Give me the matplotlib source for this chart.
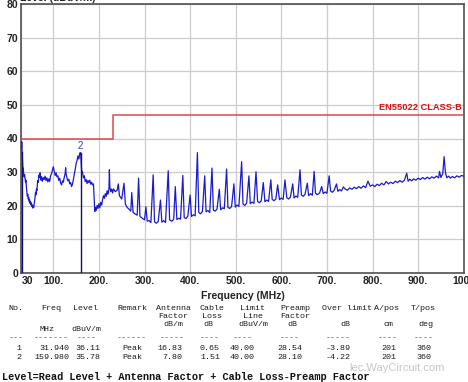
import matplotlib
matplotlib.use("Agg")
import matplotlib.pyplot as plt
from matplotlib.ticker import FixedLocator

# ---------------- data ----------------
x_ticks = [30, 100, 200, 300, 400, 500, 600, 700, 800, 900, 1000]
x_tick_labels = ["30", "100.", "200.", "300.", "400.", "500.", "600.", "700.", "800.", "900.", "1000"]
y_ticks = [0, 10, 20, 30, 40, 50, 60, 70, 80]

limit_freq = [30, 230, 230, 1000]
limit_level = [40, 40, 47, 47]
limit_name = "EN55022 CLASS-B"

marker_freq = [31.94, 159.98]
marker_level = [36.11, 35.78]
marker_label = ["1", "2"]

trace_freq = [
    30, 30.8, 31.5, 32.5, 33.3, 34, 35, 36, 37, 38,
    39, 40, 41, 42, 43, 44, 45, 46, 47, 48,
    49, 50, 51, 52, 53, 54, 55, 56, 57, 58,
    59, 60, 61, 62, 63, 64, 65, 66, 67, 68,
    69, 70, 71, 72, 73, 74, 75, 76, 78, 80,
    82, 84, 86, 88, 90, 92, 94, 96, 98, 100,
    102, 104, 106, 108, 110, 112, 114, 116, 118, 120,
    122, 124, 126, 127, 128, 130, 132, 134, 136, 138,
    140, 142, 144, 146, 148, 150, 152, 154, 156, 158,
    159.98, 161, 162, 164, 166, 168, 170, 172, 174, 176,
    178, 180, 182, 184, 186, 188, 189, 190, 191, 192,
    194, 196, 198, 200, 202, 204, 206, 208, 210, 212,
    214, 216, 218, 220, 222, 223, 224, 226, 228, 230,
    232, 236, 240, 242.5, 245, 250, 255, 258, 262, 266,
    270, 272, 275, 280, 284, 287, 290, 295, 300, 303,
    306, 310, 314, 319, 322, 326, 330, 335, 338, 342,
    346, 352, 355, 360, 364, 367.5, 371, 375, 379, 384,
    387, 391, 395, 400, 403, 407, 411, 416, 419, 423,
    427, 432, 435, 439, 443, 448, 451, 455, 459, 464,
    467, 471, 475, 480, 483, 487, 491, 496, 499, 503,
    507, 513, 516, 520, 524, 529, 532, 536, 540, 544.5,
    548, 552, 556, 560.5, 564, 568, 572, 577, 580, 584,
    588, 592, 596, 600, 604, 608, 612, 616, 620, 625,
    628, 632, 636, 641, 644, 648, 652, 657, 660, 664,
    668, 672, 675, 679, 684, 688.5, 692, 696, 700, 705,
    708, 712, 716, 721, 724, 728, 732, 736, 740, 745,
    750, 755, 760, 765, 770, 775, 780, 785, 790, 795,
    800, 805, 810, 815, 820, 825, 830, 835, 840, 845,
    850, 855, 860, 865, 870, 875, 878, 882, 886, 890,
    895, 900, 905, 910, 915, 920, 925, 930, 935, 940,
    945, 947, 950, 954, 957, 960, 963, 967, 971, 975,
    980, 985, 990, 995, 1000,
]
trace_level = [
    37.0, 39.0, 36.5, 33.0, 30.5, 31.2, 29.5, 28.6, 29.3, 28.0,
    27.0, 27.6, 25.5, 24.0, 22.8, 23.4, 22.0, 22.5, 21.3, 21.8,
    20.7, 21.2, 20.3, 20.8, 19.8, 20.2, 19.3, 19.9, 19.5, 20.4,
    21.5, 22.6, 24.0, 23.3, 25.0, 24.5, 26.4, 27.5, 27.0, 28.6,
    29.2, 28.4, 29.8, 28.5, 27.6, 28.7, 28.0, 27.3, 28.4, 27.8,
    28.8, 27.5, 28.3, 27.1, 28.0, 27.2, 28.9, 29.5, 30.6, 31.6,
    30.2, 29.0, 29.8, 28.6, 28.9, 27.5, 28.2, 26.8, 26.2, 27.4,
    27.0, 28.5, 29.6, 31.3, 29.5, 28.2, 27.4, 27.9, 26.5, 26.9,
    25.7, 26.4, 27.8, 29.4, 30.8, 32.5, 33.4, 34.8, 33.9, 35.7,
    35.78, 33.0, 30.5, 30.0, 28.3, 28.9, 27.2, 27.8, 26.6, 27.5,
    26.9, 27.6, 26.4, 27.0, 26.2, 26.5, 24.0, 21.0, 18.3, 19.5,
    18.6, 20.1, 19.2, 20.6, 19.4, 21.0, 20.2, 21.8, 23.0, 22.2,
    23.6, 22.8, 24.5, 23.4, 25.0, 30.7, 25.5, 24.2, 25.0, 23.8,
    25.0, 24.2, 24.6, 26.5, 23.0, 22.0, 26.7, 20.5, 19.5, 19.0,
    18.4, 23.9, 18.0, 17.5, 17.2, 28.2, 16.8, 16.3, 15.8, 19.7,
    15.4, 15.6, 15.0, 29.2, 15.2, 14.8, 15.3, 21.7, 15.1, 15.6,
    15.0, 30.4, 15.8, 15.4, 16.0, 25.7, 15.9, 16.3, 16.0, 29.0,
    16.5, 16.2, 16.9, 23.2, 16.8, 17.3, 17.0, 35.8, 18.0, 17.6,
    18.3, 28.9, 18.2, 18.6, 18.0, 31.2, 18.7, 18.4, 19.0, 24.9,
    18.8, 19.4, 19.1, 30.9, 19.5, 19.2, 19.8, 26.5, 19.6, 20.2,
    19.8, 33.1, 20.5, 20.1, 20.8, 28.9, 20.6, 21.1, 20.7, 30.1,
    21.3, 20.9, 21.5, 26.9, 21.2, 21.7, 21.3, 27.7, 21.9, 21.5,
    22.0, 26.2, 21.8, 22.3, 21.9, 27.7, 22.4, 22.0, 22.6, 26.5,
    22.3, 22.9, 22.5, 30.7, 23.2, 22.8, 23.4, 26.7, 23.0, 23.6,
    23.1, 30.2, 23.7, 23.3, 23.8, 25.7, 23.6, 24.1, 23.7, 28.9,
    24.4, 24.0, 24.6, 26.5, 24.3, 24.8, 24.4, 25.6, 25.0, 24.6,
    25.3, 24.9, 25.5, 25.1, 25.7, 25.2, 25.9, 25.4, 27.3, 25.8,
    26.2, 25.7, 26.4, 26.0, 26.7, 26.2, 27.2, 26.5, 27.0, 26.6,
    27.3, 26.9, 27.5, 27.0, 27.6, 29.7, 27.3, 27.9, 27.4, 28.0,
    27.6, 28.2, 27.8, 28.4, 27.9, 28.5, 28.0, 28.6, 28.2, 28.8,
    28.3, 30.2, 28.4, 29.5, 34.6, 29.8, 28.3, 28.8, 28.2, 28.7,
    28.3, 28.9, 28.5, 29.0, 28.8,
]

# table data
col_headers = [
    ("No.", "", ""), ("Freq", "", "MHz"), ("Level", "", "dBuV/m"), ("Remark", "", ""),
    ("Antenna", "Factor", "dB/m"), ("Cable", "Loss", "dB"), ("Limit", "Line", "dBuV/m"),
    ("Preamp", "Factor", "dB"), ("Over limit", "", "dB"), ("A/pos", "", "cm"), ("T/pos", "", "deg"),
]
row1 = ["1", "31.940", "36.11", "Peak", "16.83", "0.65", "40.00", "28.54", "-3.89", "201", "360"]
row2 = ["2", "159.980", "35.78", "Peak", "7.80", "1.51", "40.00", "28.10", "-4.22", "201", "360"]
dash_counts = [3, 7, 4, 6, 5, 4, 4, 4, 5, 4, 4]
footer = "Level=Read Level + Antenna Factor + Cable Loss-Preamp Factor"

# ---------------- layout helpers (pixel positions) ----------------
W, H = 468, 382
def fx(px):
    return px / W
def fy(py):
    return 1 - py / H

header_x = [16, 51, 86, 132, 173, 212, 253, 295, 347, 387, 423]
unit_x = [16, 47, 86, 132, 173, 208, 253, 292, 345, 389, 426]
value_x = [19, 69, 88, 132, 182, 210, 242, 290, 338, 389, 424]
value_ha = ["center", "right", "center", "center", "right", "center",
            "center", "center", "center", "center", "center"]
dash_x = [16, 51.5, 86.5, 132, 172, 210, 242.5, 290, 338.5, 387.5, 424]

fig = plt.figure(figsize=(W / 100, H / 100), dpi=100)
ax = fig.add_axes([fx(21.4), fy(273), fx(463.7) - fx(21.4), fy(4) - fy(273)])

grid_c = "#cccccc"
ax.set_xlim(30, 1000)
ax.set_ylim(0, 80)
ax.xaxis.set_major_locator(FixedLocator(x_ticks))
ax.set_xticklabels(x_tick_labels)
ax.set_yticks(y_ticks)
ax.grid(True, color=grid_c, linewidth=0.9)
ax.set_axisbelow(True)
ax.tick_params(length=0, labelsize=7.5, pad=2.5)
for lab in ax.get_xticklabels() + ax.get_yticklabels():
    lab.set_fontweight("bold")
    lab.set_fontfamily("Liberation Sans")
    lab.set_color("#222222")
ax.get_xticklabels()[0].set_horizontalalignment("left")
for s in ax.spines.values():
    s.set_color("#505050")
    s.set_linewidth(1.2)

# limit line
ax.plot(limit_freq, limit_level, color="#d84a4a", linewidth=1.1, zorder=3)
ax.text(996, 47.8, limit_name, color="#e01010", fontsize=6.7, fontweight="bold",
        family="Liberation Sans", ha="right", va="bottom")

# trace
ax.plot(trace_freq, trace_level, color="#1a1acd", linewidth=0.9, zorder=4)

# markers (label of marker 1 sits on the left frame and is hidden there)
for f, lv, lab in zip(marker_freq, marker_level, marker_label):
    ax.plot([f, f], [0, lv], color="#101070", linewidth=1.0, zorder=5)
    if f > 40:
        ax.text(f, lv + 0.5, lab, color="#3a3ac8", fontsize=7, family="Liberation Sans",
                ha="center", va="bottom", zorder=6)

ax.set_xlabel("Frequency (MHz)", fontsize=7.5, fontweight="bold",
              family="Liberation Sans", labelpad=3, color="#222222")
fig.text(fx(20), fy(1.2), "Level (dBuV/m)", fontsize=7.5, fontweight="bold",
         family="Liberation Sans", ha="left", va="baseline", color="#222222")

# table
mono = "Liberation Mono"
tc = "#1a1a1a"
fs = 6.0
for i, (h1, h2, h3) in enumerate(col_headers):
    fig.text(fx(header_x[i]), fy(308.5), h1, family=mono, fontsize=fs, ha="center", va="center", color=tc)
    if h2:
        fig.text(fx(header_x[i]), fy(316.5), h2, family=mono, fontsize=fs, ha="center", va="center", color=tc)
    if h3:
        yy = 329.5 if i in (1, 2) else 324.5
        fig.text(fx(unit_x[i]), fy(yy), h3, family=mono, fontsize=fs, ha="center", va="center", color=tc)
    fig.text(fx(dash_x[i]), fy(337.5), "-" * dash_counts[i], family=mono, fontsize=fs,
             ha="center", va="center", color="#444444")
    fig.text(fx(value_x[i]), fy(348.5), row1[i], family=mono, fontsize=fs, ha=value_ha[i], va="center", color=tc)
    fig.text(fx(value_x[i]), fy(357.5), row2[i], family=mono, fontsize=fs, ha=value_ha[i], va="center", color=tc)

fig.text(fx(2), fy(377), footer, family=mono, fontsize=7.4, fontweight="bold",
         ha="left", va="center", color="#111111")

# watermark
fig.text(fx(397), fy(368), "lec.WayCircuit.com", family="Liberation Sans", fontsize=8,
         ha="center", va="center", color="#b8b8b8", alpha=0.8)

fig.savefig("out.png", dpi=100)
